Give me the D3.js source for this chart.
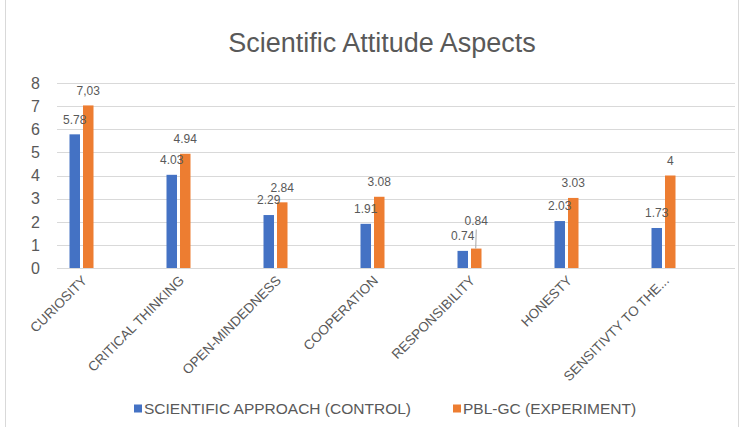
<!DOCTYPE html>
<html>
<head>
<meta charset="utf-8">
<script src="https://cdn.jsdelivr.net/npm/d3@7"></script>
<style>
  body { margin: 0; background: #fff; }
  svg { display: block; }
</style>
</head>
<body>
<svg id="chart" width="745" height="427"></svg>
<script>
// data
const categories = ["CURIOSITY", "CRITICAL THINKING", "OPEN-MINDEDNESS", "COOPERATION",
    "RESPONSIBILITY", "HONESTY", "SENSITIVTY TO THE..."];
const seriesNames = ["SCIENTIFIC APPROACH (CONTROL)", "PBL-GC (EXPERIMENT)"];
const controlValues = [5.78, 4.03, 2.29, 1.91, 0.74, 2.03, 1.73];
const experimentValues = [7.03, 4.94, 2.84, 3.08, 0.84, 3.03, 4];
const controlLabels = ["5.78", "4.03", "2.29", "1.91", "0.74", "2.03", "1.73"];
const experimentLabels = ["7,03", "4.94", "2.84", "3.08", "0.84", "3.03", "4"];
const yTicks = [0, 1, 2, 3, 4, 5, 6, 7, 8];

const colors = ["#4472C4", "#ED7D31"];
const textColor = "#595959";
const gridColor = "#d9d9d9";
const font = "Liberation Sans, Arial, sans-serif";

const svg = d3.select("#chart");

// frame
svg.append("rect")
    .attr("x", 5.5).attr("y", -1)
    .attr("width", 733).attr("height", 440)
    .attr("fill", "none")
    .attr("stroke", gridColor);

svg.append("text")
    .attr("x", 382).attr("y", 52)
    .attr("text-anchor", "middle")
    .style("font-family", font)
    .style("font-size", "27px")
    .attr("fill", textColor)
    .text("Scientific Attitude Aspects");

let y = d3.scaleLinear().domain([0, 8]).range([268, 83]);
let x = d3.scaleBand().domain(categories).range([33, 712]);
let xs = d3.scaleBand().domain([0, 1])
    .range([x.bandwidth() / 2 - 12, x.bandwidth() / 2 + 12])
    .paddingInner(0.222);

// gridlines
svg.append("g")
    .selectAll("line")
    .data(yTicks)
    .enter()
    .append("line")
    .attr("x1", 57).attr("x2", 735)
    .attr("y1", d => Math.round(y(d)) + 0.5)
    .attr("y2", d => Math.round(y(d)) + 0.5)
    .attr("stroke", gridColor)
    .attr("stroke-width", 1.2);

// y labels
svg.append("g")
    .selectAll("text")
    .data(yTicks)
    .enter()
    .append("text")
    .attr("x", 40)
    .attr("y", d => y(d))
    .attr("dy", "0.36em")
    .attr("text-anchor", "end")
    .style("font-family", font)
    .style("font-size", "16px")
    .attr("fill", textColor)
    .text(d => d);

let rows = categories.map((c, i) => ({
    cat: c,
    vals: [controlValues[i], experimentValues[i]],
    labels: [controlLabels[i], experimentLabels[i]]
}));

let groups = svg.append("g")
    .selectAll("g")
    .data(rows)
    .enter()
    .append("g")
    .attr("transform", d => "translate(" + x(d.cat) + ",0)");

groups.selectAll("rect")
    .data(d => d.vals.map((v, s) => ({ v: v, s: s })))
    .enter()
    .append("rect")
    .attr("x", d => xs(d.s))
    .attr("width", xs.bandwidth())
    .attr("y", d => y(d.v))
    .attr("height", d => y(0) - y(d.v))
    .attr("fill", d => colors[d.s]);

// data labels; responsibility/experiment is pushed up with a leader line
groups.each(function (d, i) {
    let g = d3.select(this);
    d.vals.forEach((v, s) => {
        let cx = xs(s) + xs.bandwidth() / 2;
        let lift = (i === 4 && s === 1) ? 28 : 15;
        g.append("text")
            .attr("x", cx)
            .attr("y", y(v) - lift)
            .attr("dy", "0.35em")
            .attr("text-anchor", "middle")
            .style("font-family", font)
            .style("font-size", "12px")
            .attr("fill", textColor)
            .text(d.labels[s]);
        if (lift > 15) {
            g.append("line")
                .attr("x1", cx).attr("x2", cx - 0.5)
                .attr("y1", y(v) - lift + 9)
                .attr("y2", y(v))
                .attr("stroke", "#a6a6a6");
        }
    });
});

// x labels
svg.append("g")
    .selectAll("text")
    .data(categories)
    .enter()
    .append("text")
    .attr("transform", d => "translate(" + (x(d) + x.bandwidth() / 2 + 3) + ",278) rotate(-45)")
    .attr("text-anchor", "end")
    .attr("dy", "0.35em")
    .style("font-family", font)
    .style("font-size", "13.5px")
    .attr("fill", textColor)
    .text(d => d);

// legend
let legendX = [134, 453];
let legend = svg.append("g")
    .selectAll("g")
    .data(seriesNames)
    .enter()
    .append("g")
    .attr("transform", (d, i) => "translate(" + legendX[i] + ",408.5)");

legend.append("rect")
    .attr("x", 0).attr("y", -4)
    .attr("width", 8).attr("height", 8)
    .attr("fill", (d, i) => colors[i]);

legend.append("text")
    .attr("x", 10)
    .attr("dy", "0.36em")
    .style("font-family", font)
    .style("font-size", "15.5px")
    .attr("fill", textColor)
    .text(d => d);
</script>
</body>
</html>
